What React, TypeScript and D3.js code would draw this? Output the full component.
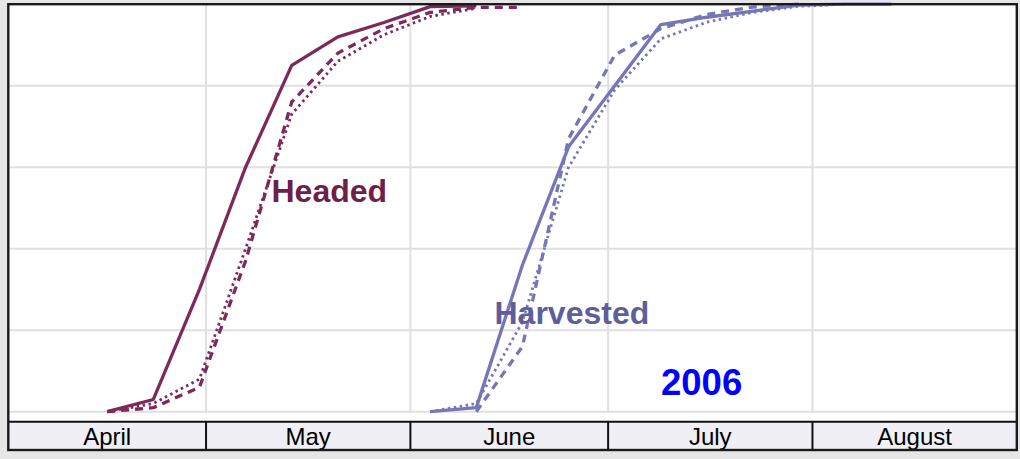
import React from "react";
import * as d3 from "d3";

// ---- data ----
const months = ["April", "May", "June", "July", "August"];
const monthStarts = ["2006-04-01", "2006-05-01", "2006-06-01", "2006-07-01", "2006-08-01", "2006-09-01"];
const yGrid = [0, 20, 40, 60, 80];

const headedWeeks = ["2006-04-16", "2006-04-23", "2006-04-30", "2006-05-07", "2006-05-14", "2006-05-21", "2006-05-28", "2006-06-04", "2006-06-11", "2006-06-18"];
const headed2006 = [0, 3, 30, 60, 85, 92, 95.5, 99.4, 99.6, null];
const headedPrev = [0, 1, 6, 37, 76, 88, 94, 98, 99.2, 99.2];
const headedAvg = [0, 2, 8, 40, 73, 86, 92.5, 97, 99, null];

const harvestWeeks = ["2006-06-04", "2006-06-11", "2006-06-18", "2006-06-25", "2006-07-02", "2006-07-09", "2006-07-16", "2006-07-23", "2006-07-30", "2006-08-06", "2006-08-13"];
const harvest2006 = [0, 1, 36, 65, 80, 95, 96.8, 98.3, 99.8, 100, 100];
const harvestPrev = [null, 0, 16, 67, 87.5, 94, 97.5, 99.3, 100, null, null];
const harvestAvg = [0, 2, 22, 60, 79, 91.5, 95.6, 98, 99.5, 100, null];

const headedColor = "#7d2a5a";
const headedText = "#6e1f4a";
const harvestColor = "#7676b6";
const harvestText = "#5e5e9c";

export default function App() {
  const W = 1020, H = 459;
  const left = 8.3, right = 1016.8, top = 4.2, zeroY = 411.7, bandTop = 421.7, bandBottom = 450;
  const parse = d3.utcParse("%Y-%m-%d");
  const x = d3.scaleUtc()
    .domain([parse(monthStarts[0]) as Date, parse(monthStarts[monthStarts.length - 1]) as Date])
    .range([left, right]);
  const y = d3.scaleLinear().domain([0, 100]).range([zeroY, top]);

  const mkLine = (weeks: string[], vals: (number | null)[]) => {
    const pts = weeks.map((w, i) => ({ d: parse(w) as Date, v: vals[i] }));
    return d3.line<{ d: Date; v: number | null }>()
      .defined((p) => p.v !== null)
      .x((p) => x(p.d))
      .y((p) => y(p.v as number))(pts) || "";
  };

  const series = [
    { path: mkLine(headedWeeks, headedAvg), color: headedColor, dash: "2.5,3.5", w: 2.8 },
    { path: mkLine(headedWeeks, headedPrev), color: headedColor, dash: "8,6", w: 3.3 },
    { path: mkLine(headedWeeks, headed2006), color: headedColor, dash: null, w: 3.3 },
    { path: mkLine(harvestWeeks, harvestAvg), color: harvestColor, dash: "2.5,3.5", w: 2.8 },
    { path: mkLine(harvestWeeks, harvestPrev), color: harvestColor, dash: "8,6", w: 3.3 },
    { path: mkLine(harvestWeeks, harvest2006), color: harvestColor, dash: null, w: 3.3 },
  ];

  const bounds = monthStarts.map((m) => x(parse(m) as Date));
  const font = "'Liberation Sans', Arial, sans-serif";

  return (
    <svg width={W} height={H} style={{ position: "absolute", left: 0, top: 0, display: "block" }}>
      <rect x={0} y={0} width={W} height={H} fill="#e6e6e6" />
      <rect x={left} y={top} width={right - left} height={bandBottom - top} fill="#ffffff" />
      {/* grid */}
      {yGrid.map((g) => (
        <line key={"h" + g} x1={left} x2={right} y1={y(g)} y2={y(g)} stroke="#e0e0e0" strokeWidth={2} />
      ))}
      {bounds.slice(1, -1).map((bx, i) => (
        <line key={"v" + i} x1={bx} x2={bx} y1={top} y2={zeroY + 1.5} stroke="#e0e0e0" strokeWidth={2} />
      ))}
      {/* series */}
      {series.map((s, i) => (
        <path key={i} d={s.path} fill="none" stroke={s.color} strokeWidth={s.w}
          strokeDasharray={s.dash || undefined} strokeLinejoin="round" />
      ))}
      {/* annotations */}
      <text x={271.5} y={201.5} fontFamily={font} fontWeight="bold" fontSize={32} fill={headedText}>Headed</text>
      <text x={494.5} y={324} fontFamily={font} fontWeight="bold" fontSize={32} fill={harvestText}>Harvested</text>
      <text x={661} y={395} fontFamily={font} fontWeight="bold" fontSize={36.5} fill="#0000ff">2006</text>
      {/* month band */}
      <rect x={left} y={bandTop} width={right - left} height={bandBottom - bandTop} fill="#efeff5" />
      <line x1={left} x2={right} y1={bandTop} y2={bandTop} stroke="#111" strokeWidth={2} />
      {bounds.slice(1, -1).map((bx, i) => (
        <line key={"b" + i} x1={bx} x2={bx} y1={bandTop} y2={bandBottom} stroke="#111" strokeWidth={2} />
      ))}
      {months.map((m, i) => (
        <text key={m} x={(bounds[i] + bounds[i + 1]) / 2} y={445} textAnchor="middle"
          fontFamily={font} fontSize={24} fill="#000">{m}</text>
      ))}
      {/* frame */}
      <rect x={left} y={top} width={right - left} height={bandBottom - top} fill="none" stroke="#1a1a1a" strokeWidth={2.4} />
    </svg>
  );
}
